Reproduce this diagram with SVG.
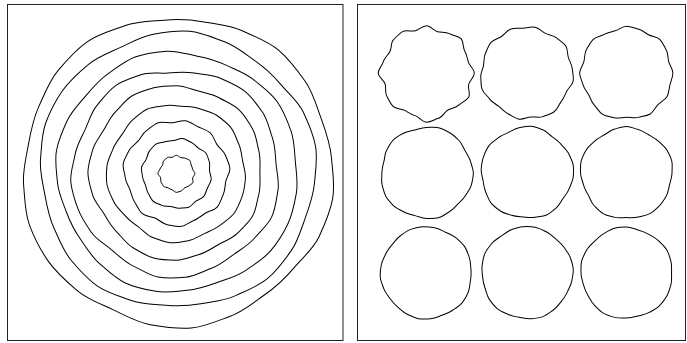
<svg xmlns="http://www.w3.org/2000/svg" width="687" height="343" viewBox="0 0 687 343">
<style>
.frame{fill:#fff;stroke:#222;stroke-width:1}
.ring{fill:none;stroke:#000}
</style>
<defs>
<path id="A" d="M105 0 C105 8.74 94.99 16.4 92.73 24.84 S97.03 45.93 92.66 53.5 S76.89 64.53 70.71 70.71 S54.57 77.03 47 81.4 S35.1 97.23 26.66 99.49 S8.74 108 0 108 S-16.66 95.95 -25.1 93.69 S-39.93 86.64 -47.5 82.27 S-67.36 79.72 -73.54 73.54 S-83.1 58.07 -87.47 50.5 S-88.53 32.77 -90.79 24.33 S-106 8.74 -106 0 S-96.92 -16.92 -94.66 -25.36 S-84.91 -38.93 -80.54 -46.5 S-79.01 -66.65 -72.83 -72.83 S-60.07 -86.56 -52.5 -90.93 S-33.28 -90.47 -24.84 -92.73 S-8.74 -104 0 -104 S15.89 -93.05 24.33 -90.79 S42.43 -90.97 50 -86.6 S69.48 -81.84 75.66 -75.66 S79.63 -56.07 84 -48.5 S89.5 -33.03 91.76 -24.59 S105 -8.74 105 0 Z"/>
<path id="B" d="M103 0 C103 8.74 96.92 16.92 94.66 25.36 S94.43 44.43 90.06 52 S77.6 65.24 71.42 71.42 S56.07 79.63 48.5 84 S34.84 96.26 26.4 98.52 S8.74 105 0 105 S-17.44 98.85 -25.88 96.59 S-40.43 87.51 -48 83.14 S-63.82 76.18 -70 70 S-84.83 59.07 -89.2 51.5 S-91.43 33.54 -93.69 25.1 S-102 8.74 -102 0 S-102.71 -18.48 -100.45 -26.92 S-89.24 -41.43 -84.87 -49 S-74.06 -61.7 -67.88 -67.88 S-59.07 -84.83 -51.5 -89.2 S-34.32 -94.33 -25.88 -96.59 S-8.74 -97 0 -97 S18.48 -102.71 26.92 -100.45 S42.93 -91.84 50.5 -87.47 S61.7 -74.06 67.88 -67.88 S83.96 -58.57 88.33 -51 S93.36 -34.06 95.62 -25.62 S103 -8.74 103 0 Z"/>
<path id="C" d="M102 0 C102 8.74 101.75 18.22 99.49 26.66 S90.97 42.43 86.6 50 S75.48 63.12 69.3 69.3 S58.07 83.1 50.5 87.47 S35.1 97.23 26.66 99.49 S8.74 101 0 101 S-16.66 95.95 -25.1 93.69 S-41.43 89.24 -49 84.87 S-65.24 77.6 -71.42 71.42 S-84.83 59.07 -89.2 51.5 S-96.26 34.84 -98.52 26.4 S-99 8.74 -99 0 S-95.95 -16.66 -93.69 -25.1 S-90.97 -42.43 -86.6 -50 S-78.3 -65.94 -72.12 -72.12 S-57.07 -81.36 -49.5 -85.73 S-33.54 -91.43 -25.1 -93.69 S-8.74 -99 0 -99 S17.96 -100.78 26.4 -98.52 S43.93 -93.57 51.5 -89.2 S64.53 -76.89 70.71 -70.71 S80.5 -56.57 84.87 -49 S95.3 -34.58 97.56 -26.14 S102 -8.74 102 0 Z"/>
<path id="D" d="M101 0 C101 8.74 100.78 17.96 98.52 26.4 S92.7 43.43 88.33 51 S76.89 64.53 70.71 70.71 S56.57 80.5 49 84.87 S34.06 93.36 25.62 95.62 S8.74 101 0 101 S-17.96 100.78 -26.4 98.52 S-42.43 90.97 -50 86.6 S-63.12 75.48 -69.3 69.3 S-80.5 56.57 -84.87 49 S-94.33 34.32 -96.59 25.88 S-102 8.74 -102 0 S-99.82 -17.7 -97.56 -26.14 S-90.1 -41.93 -85.73 -49.5 S-76.89 -64.53 -70.71 -70.71 S-58.57 -83.96 -51 -88.33 S-34.58 -95.3 -26.14 -97.56 S-8.74 -98 0 -98 S16.92 -96.92 25.36 -94.66 S42.43 -90.97 50 -86.6 S65.94 -78.3 72.12 -72.12 S83.1 -58.07 87.47 -50.5 S93.36 -34.06 95.62 -25.62 S101 -8.74 101 0 Z"/>
</defs>
<rect width="687" height="343" fill="#fff"/>
<g id="left-panel">
<rect class="frame" x="7.5" y="4.5" width="335.5" height="336"/>
<use class="ring" href="#A" transform="translate(176.5 173.5) rotate(0) scale(0.175)" stroke-width="5.71"/>
<use class="ring" href="#B" transform="translate(176.5 173.5) rotate(40) scale(0.345)" stroke-width="2.9"/>
<use class="ring" href="#B" transform="translate(176.5 173) rotate(100) scale(-0.515 0.515)" stroke-width="1.94"/>
<use class="ring" href="#C" transform="translate(176.5 172.5) rotate(20) scale(0.685)" stroke-width="1.46"/>
<use class="ring" href="#C" transform="translate(176.5 172.5) rotate(75) scale(-0.86 0.86)" stroke-width="1.163"/>
<use class="ring" href="#C" transform="translate(176.5 172.5) rotate(160) scale(1.03)" stroke-width="0.971"/>
<use class="ring" href="#D" transform="translate(177 172) rotate(10) scale(1.2)" stroke-width="0.833"/>
<use class="ring" href="#D" transform="translate(177.5 171) rotate(50) scale(-1.375 1.375)" stroke-width="0.727"/>
<use class="ring" href="#D" transform="translate(177.5 171) rotate(130) scale(1.545)" stroke-width="0.647"/>
</g>
<g id="right-panel">
<rect class="frame" x="357.5" y="4.5" width="328" height="336"/>
<use class="ring" href="#A" transform="translate(426.5 73) rotate(0) scale(0.455)" stroke-width="2.2"/>
<use class="ring" href="#B" transform="translate(527 73) rotate(70) scale(-0.455 0.455)" stroke-width="2.2"/>
<use class="ring" href="#B" transform="translate(626.5 73) rotate(30) scale(0.455)" stroke-width="2.2"/>
<use class="ring" href="#C" transform="translate(426.5 173) rotate(120) scale(-0.455 0.455)" stroke-width="2.2"/>
<use class="ring" href="#C" transform="translate(527 173) rotate(200) scale(0.455)" stroke-width="2.2"/>
<use class="ring" href="#C" transform="translate(626.5 173) rotate(45) scale(0.455)" stroke-width="2.2"/>
<use class="ring" href="#D" transform="translate(426.5 273) rotate(100) scale(-0.455 0.455)" stroke-width="2.2"/>
<use class="ring" href="#D" transform="translate(527 273) rotate(250) scale(0.455)" stroke-width="2.2"/>
<use class="ring" href="#D" transform="translate(626.5 273) rotate(15) scale(0.455)" stroke-width="2.2"/>
</g>
</svg>
